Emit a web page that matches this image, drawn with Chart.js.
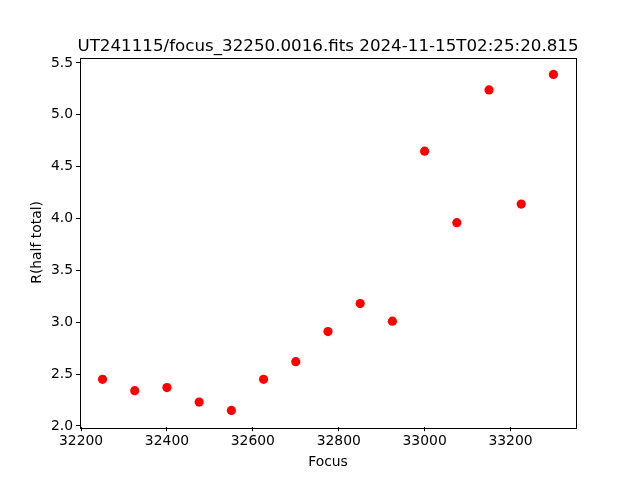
<!DOCTYPE html>
<html>
<head>
<meta charset="utf-8">
<script src="https://cdn.jsdelivr.net/npm/chart.js@4"></script>
<style>
  html, body { margin: 0; padding: 0; background: #fff; }
  #c { display: block; }
</style>
</head>
<body>
<canvas id="c" width="640" height="480"></canvas>
<script>
const focusValues = [32250, 32325, 32400, 32475, 32550, 32625, 32700, 32775, 32850, 32925, 33000, 33075, 33150, 33225, 33300];
const rHalfTotal = [2.45, 2.34, 2.37, 2.23, 2.15, 2.45, 2.62, 2.91, 3.18, 3.01, 4.65, 3.96, 5.24, 4.14, 5.39];
const xTicks = [32200, 32400, 32600, 32800, 33000, 33200];
const yTicks = [2.0, 2.5, 3.0, 3.5, 4.0, 4.5, 5.0, 5.5];
const titleText = 'UT241115/focus_32250.0016.fits 2024-11-15T02:25:20.815';

const font = 'DejaVu Sans';

// matplotlib-like frame + title
const framePlugin = {
  id: 'frame',
  afterDraw(chart) {
    const {ctx, chartArea: a} = chart;
    ctx.save();
    ctx.strokeStyle = '#000';
    ctx.lineWidth = 1;
    ctx.strokeRect(Math.round(a.left) + 0.5, Math.round(a.top) + 0.5,
      Math.round(a.right - a.left), Math.round(a.bottom - a.top));
    ctx.fillStyle = '#000';
    ctx.font = '16.7px "' + font + '"';
    ctx.textAlign = 'center';
    ctx.textBaseline = 'alphabetic';
    ctx.fillText(titleText, (a.left + a.right) / 2, 51);
    ctx.restore();
  }
};

const points = focusValues.map((x, i) => ({x: x, y: rHalfTotal[i]}));

new Chart(document.getElementById('c'), {
  type: 'scatter',
  data: {
    datasets: [{
      data: points,
      backgroundColor: '#ff0000',
      borderWidth: 0,
      pointRadius: 4.6,
      pointHoverRadius: 4.6
    }]
  },
  options: {
    responsive: false,
    animation: false,
    layout: { padding: { top: 57.6, right: 64, left: 0, bottom: 0 } },
    plugins: { legend: { display: false }, tooltip: { enabled: false } },
    scales: {
      x: {
        type: 'linear',
        min: 32197.5,
        max: 33352.5,
        afterBuildTicks: s => { s.ticks = xTicks.map(v => ({value: v})); },
        afterFit: s => { s.height = 52.8; },
        grid: { drawOnChartArea: false, drawTicks: true, tickLength: 4, color: '#000' },
        border: { display: false },
        ticks: { color: '#000', font: { family: font, size: 13.9 }, padding: 2, maxRotation: 0,
          callback: v => String(v) },
        title: { display: true, text: 'Focus', color: '#000', font: { family: font, size: 13.9 },
          padding: { top: 0, bottom: 9.5 } }
      },
      y: {
        type: 'linear',
        min: 1.988,
        max: 5.552,
        afterBuildTicks: s => { s.ticks = yTicks.map(v => ({value: v})); },
        afterFit: s => { s.width = 80; },
        grid: { drawOnChartArea: false, drawTicks: true, tickLength: 4, color: '#000' },
        border: { display: false },
        ticks: { color: '#000', font: { family: font, size: 13.9 }, padding: 3,
          callback: v => Number(v).toFixed(1) },
        title: { display: true, text: 'R(half total)', color: '#000', font: { family: font, size: 13.9 },
          padding: { top: 29, bottom: 0 } }
      }
    }
  },
  plugins: [framePlugin]
});
</script>
</body>
</html>
